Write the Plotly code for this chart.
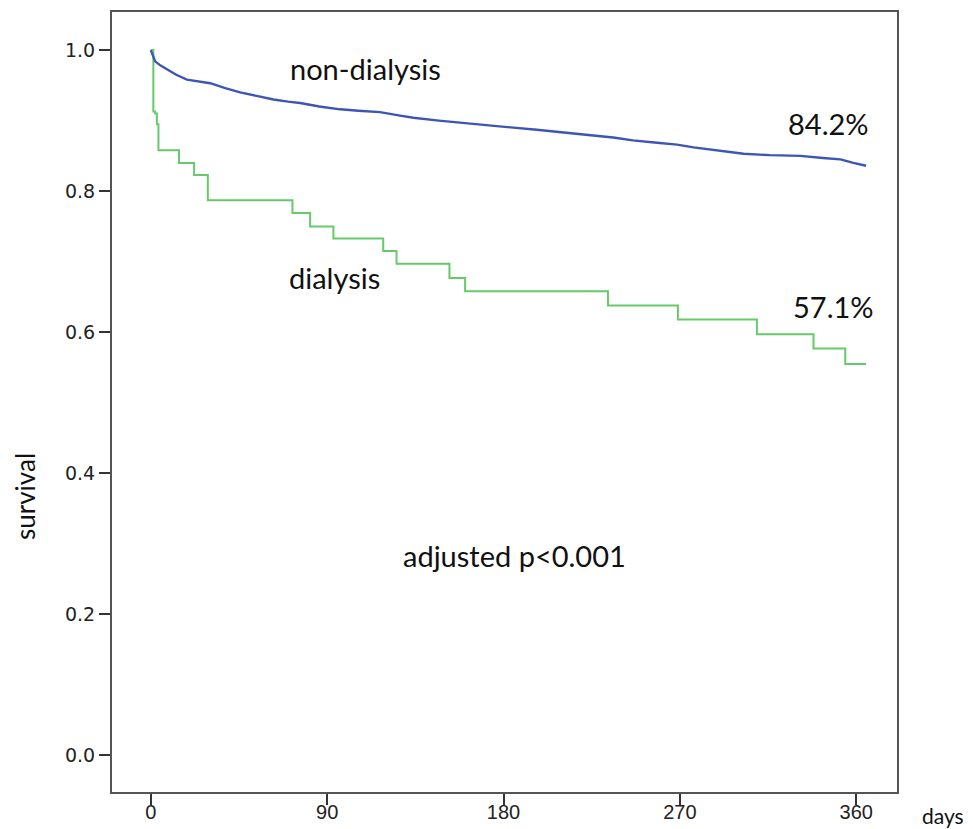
import plotly.graph_objects as go

# Dialysis group (Kaplan-Meier step points: day, survival)
dial_days = [0, 1.3, 2.2, 3.1, 3.9, 14.4, 22.1, 29.1, 72.3, 81.3, 93.2, 118.6, 125.4,
             152.4, 160.4, 233.3, 269.0, 309.3, 338.2, 354.4, 365]
dial_surv = [1.0, 0.913, 0.910, 0.895, 0.858, 0.840, 0.823, 0.787, 0.769, 0.750, 0.733,
             0.715, 0.697, 0.677, 0.658, 0.638, 0.618, 0.597, 0.577, 0.555, 0.555]

# Non-dialysis group
nond_days = [0, 1.3, 2.2, 5, 8.2, 13, 18.4, 24, 30.3, 38, 45.6, 54, 62.6, 70, 76.2, 86,
             96.6, 106, 117, 127.2, 134, 147, 159.6, 172, 185, 197, 209, 222, 236, 246,
             257, 268.5, 277, 285.5, 294, 302.5, 316, 331.5, 343, 352, 358.5, 365]
nond_surv = [1.0, 0.989, 0.984, 0.978, 0.973, 0.965, 0.958, 0.956, 0.953, 0.946, 0.940,
             0.935, 0.930, 0.927, 0.925, 0.920, 0.916, 0.914, 0.912, 0.907, 0.904, 0.900,
             0.897, 0.893, 0.890, 0.887, 0.884, 0.880, 0.876, 0.872, 0.869, 0.866, 0.862,
             0.859, 0.856, 0.853, 0.851, 0.850, 0.847, 0.845, 0.840, 0.836]

x_ticks = [0, 90, 180, 270, 360]
y_ticks = [0.0, 0.2, 0.4, 0.6, 0.8, 1.0]
y_tick_labels = ["0.0", "0.2", "0.4", "0.6", "0.8", "1.0"]

fig = go.Figure()
fig.add_trace(go.Scatter(x=dial_days, y=dial_surv, mode="lines", line_shape="hv",
                         line=dict(color="#66C96A", width=2), name="dialysis"))
fig.add_trace(go.Scatter(x=nond_days, y=nond_surv, mode="lines", line_shape="linear",
                         line=dict(color="#3D55B4", width=2.4), name="non-dialysis"))

ann_font = dict(family="Lato, Open Sans, sans-serif", size=29, color="#111111")
anns = [
    dict(x=109.4, y=0.974, text="non-dialysis"),
    dict(x=345.7, y=0.896, text="84.2%"),
    dict(x=93.6, y=0.678, text="dialysis"),
    dict(x=348.2, y=0.636, text="57.1%"),
    dict(x=185.5, y=0.283, text="adjusted p<0.001"),
]
for a in anns:
    fig.add_annotation(x=a["x"], y=a["y"], text=a["text"], showarrow=False,
                       xref="x", yref="y", font=ann_font)

fig.update_layout(
    width=973, height=829,
    margin=dict(l=112, r=76, t=12, b=37),
    plot_bgcolor="white", paper_bgcolor="white",
    showlegend=False,
)

fig.update_xaxes(range=[-19.8, 380.8], tickvals=x_ticks, ticks="outside", ticklen=11,
                 tickwidth=2, tickcolor="#333", showline=True, mirror=True, linewidth=2,
                 linecolor="#555", showgrid=False, zeroline=False,
                 ticklabelstandoff=-10,
                 tickfont=dict(family="Liberation Sans Narrow, Liberation Sans, sans-serif",
                               size=20, color="#222"), automargin=False)
fig.update_yaxes(range=[-0.052, 1.054], tickvals=y_ticks, ticktext=y_tick_labels,
                 ticks="outside", ticklen=11, tickwidth=2, tickcolor="#333",
                 showline=True, mirror=True, linewidth=2, linecolor="#555",
                 showgrid=False, zeroline=False,
                 tickfont=dict(family="DejaVu Sans, sans-serif", size=19, color="#222"),
                 automargin=False)

fig.add_annotation(x=-0.11, y=0.379, xref="paper", yref="paper", text="survival",
                   showarrow=False, textangle=-90, xanchor="center", yanchor="middle",
                   font=dict(family="Lato, sans-serif", size=26, color="#111"))
fig.add_annotation(x=1.029, y=-0.03, xref="paper", yref="paper", text="days", showarrow=False,
                   xanchor="left", yanchor="middle",
                   font=dict(family="Lato, sans-serif", size=21, color="#111"))

fig.write_html("out.html", config={"displayModeBar": False},
               post_script="document.body.style.margin='0';document.body.style.overflow='hidden';")
